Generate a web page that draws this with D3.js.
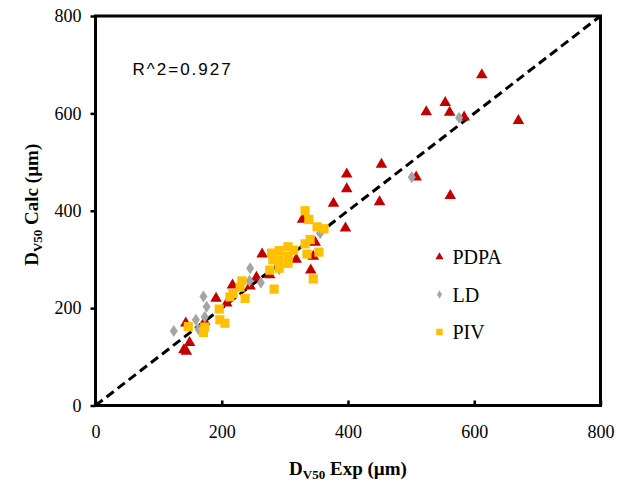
<!DOCTYPE html>
<meta charset="utf-8">
<script src="https://d3js.org/d3.v7.min.js"></script>
<style>
  body { margin: 0; background: #fff; }
  text { font-family: "Liberation Serif", "Times New Roman", serif; }
</style>
<div id="my_dataviz"></div>
<script>

// data: [Exp, Calc] in µm
var pdpa = [[612,679],[554,622],[524,603],[561,602],[584,592],[670,585],[453,495],
  [398,475],[508,469],[398,445],[377,415],[450,418],[562,431],[396,364],[328,382],
  [345,306],[341,278],[348,335],[264,311],[318,300],[255,263],[245,245],[217,247],
  [276,268],[191,220],[208,210],[143,169],[173,172],[149,129],[144,111],[140,114]];
var ld = [[576,591],[501,469],[356,354],[245,282],[262,252],[244,256],[291,280],
  [171,224],[176,203],[173,182],[159,176],[124,153],[163,157]];
var piv = [[332,400],[338,382],[351,367],[362,363],[340,341],[332,332],[335,311],
  [354,315],[345,260],[305,326],[314,319],[279,313],[291,318],[305,306],[305,292],
  [290,299],[281,299],[276,278],[291,282],[283,239],[232,256],[229,243],[218,230],
  [213,223],[237,220],[147,162],[173,161],[171,150],[196,198],[197,176],[205,169]];
var ticks = [0, 200, 400, 600, 800];
var seriesNames = ["PDPA", "LD", "PIV"];
var r2Label = "R^2=0.927";

var W = 624, H = 485;
var margin = {top: 16, right: 23.5, bottom: 79.5, left: 95.5},
    width = W - margin.left - margin.right,
    height = H - margin.top - margin.bottom;

var svg = d3.select("#my_dataviz")
  .append("svg")
    .attr("width", W)
    .attr("height", H)
  .append("g")
    .attr("transform", "translate(" + margin.left + "," + margin.top + ")");

var x = d3.scaleLinear().domain([0, 800]).range([0, width]);
var y = d3.scaleLinear().domain([0, 800]).range([height, 0]);

// X axis (ticks pointing inward)
var xAxis = svg.append("g")
  .attr("transform", "translate(0," + height + ")")
  .call(d3.axisBottom(x).tickValues(ticks).tickSize(-5).tickPadding(20).tickFormat(d3.format("d")));
xAxis.select(".domain").remove();
xAxis.selectAll("line").attr("stroke", "#000").attr("stroke-width", 2.5);
xAxis.selectAll("text").attr("font-size", 18).attr("fill", "#000")
  .style("font-family", "Liberation Serif, serif");

// Y axis (ticks pointing outward)
var yAxis = svg.append("g")
  .call(d3.axisLeft(y).tickValues(ticks).tickSize(5).tickPadding(9).tickFormat(d3.format("d")));
yAxis.select(".domain").remove();
yAxis.selectAll("line").attr("stroke", "#000").attr("stroke-width", 2.5);
yAxis.selectAll("text").attr("font-size", 18).attr("fill", "#000")
  .style("font-family", "Liberation Serif, serif");

// plot frame
svg.append("rect")
  .attr("width", width)
  .attr("height", height)
  .attr("fill", "none")
  .attr("stroke", "#000")
  .attr("stroke-width", 3);

// 1:1 line
svg.append("line")
  .attr("x1", x(0)).attr("y1", y(0))
  .attr("x2", x(800)).attr("y2", y(800))
  .attr("stroke", "#000")
  .attr("stroke-width", 3)
  .attr("stroke-dasharray", "9,5");

// points
var sym = {
  PDPA: {type: d3.symbolTriangle, size: 58, color: "#C00000", data: pdpa},
  LD:   {type: d3.symbolDiamond,  size: 42, color: "#A5A5A5", data: ld},
  PIV:  {type: d3.symbolSquare,   size: 84, color: "#FFC000", data: piv}
};

seriesNames.forEach(function(name) {
  var s = sym[name];
  svg.append("g")
    .selectAll("path")
    .data(s.data)
    .enter()
    .append("path")
      .attr("d", d3.symbol().type(s.type).size(s.size))
      .attr("transform", function(d) {
        return "translate(" + x(d[0]) + "," + y(d[1]) + ")" + (name == "LD" ? " scale(1.15,1)" : "");
      })
      .attr("fill", s.color);
});

// legend
var legend = svg.append("g").attr("transform", "translate(344,241)");
seriesNames.forEach(function(name, i) {
  var s = sym[name];
  var g = legend.append("g").attr("transform", "translate(0," + (i * 37.5) + ")");
  g.append("path")
    .attr("d", d3.symbol().type(s.type).size(s.size * 0.5))
    .attr("fill", s.color);
  g.append("text")
    .attr("x", 13)
    .attr("y", 7)
    .attr("font-size", 20)
    .text(name);
});

// R^2 annotation
svg.append("text")
  .attr("x", 37)
  .attr("y", 59)
  .attr("font-size", 17)
  .attr("letter-spacing", 2)
  .style("font-family", "Liberation Sans, Arial, sans-serif")
  .text(r2Label);

// X axis label
var xl = svg.append("text")
  .attr("text-anchor", "middle")
  .attr("x", width / 2)
  .attr("y", height + 69)
  .attr("font-size", 19)
  .attr("font-weight", "bold");
xl.append("tspan").text("D");
xl.append("tspan").attr("font-size", 13).attr("dy", 4).text("V50");
xl.append("tspan").attr("dy", -4).text(" Exp (\u00b5m)");

// Y axis label
var yl = svg.append("text")
  .attr("text-anchor", "middle")
  .attr("transform", "rotate(-90)")
  .attr("x", -height / 2 + 6)
  .attr("y", -58)
  .attr("font-size", 19)
  .attr("font-weight", "bold");
yl.append("tspan").text("D");
yl.append("tspan").attr("font-size", 13).attr("dy", 4).text("V50");
yl.append("tspan").attr("dy", -4).text(" Calc (\u00b5m)");

</script>
